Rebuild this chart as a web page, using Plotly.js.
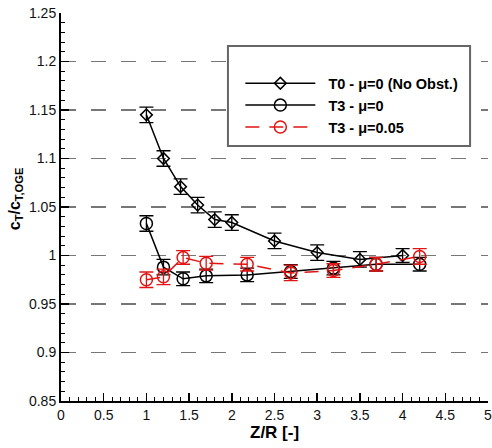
<!DOCTYPE html>
<html>
<head>
<meta charset="utf-8">
<script src="https://cdn.plot.ly/plotly-3.0.1.min.js"></script>
<style>html,body{margin:0;padding:0;background:#fff}#chart{width:492px;height:448px}</style>
</head>
<body>
<div id="chart"></div>
<script>
// T0 - mu=0 (No Obst.)
const t0X = [1.0, 1.2, 1.4, 1.6, 1.8, 2.0, 2.5, 3.0, 3.5, 4.0];
const t0Y = [1.145, 1.100, 1.071, 1.052, 1.037, 1.034, 1.015, 1.003, 0.996, 1.000];
const t0Err = [0.008, 0.008, 0.008, 0.008, 0.008, 0.008, 0.008, 0.008, 0.008, 0.007];
// T3 - mu=0
const t3X = [1.0, 1.2, 1.43, 1.7, 2.18, 2.69, 3.19, 3.69, 4.2];
const t3Y = [1.033, 0.988, 0.976, 0.979, 0.980, 0.9835, 0.987, 0.991, 0.991];
const t3Err = [0.008, 0.008, 0.007, 0.007, 0.007, 0.007, 0.007, 0.007, 0.007];
// T3 - mu=0.05
const t3bX = [1.0, 1.2, 1.43, 1.7, 2.18, 2.69, 3.19, 3.69, 4.2];
const t3bY = [0.975, 0.978, 0.998, 0.992, 0.991, 0.982, 0.9845, 0.991, 0.999];
const t3bErr = [0.008, 0.008, 0.007, 0.007, 0.007, 0.008, 0.007, 0.007, 0.008];

const names = ['\u00a0\u00a0T0 - \u03bc=0 (No Obst.)', '\u00a0\u00a0T3 - \u03bc=0', '\u00a0\u00a0T3 - \u03bc=0.05'];
const xTitle = 'Z/R [-]';
const yTitle = 'c<sub>T</sub>/c<sub>T,OGE</sub>';
const red = 'rgb(225,20,20)';

function errBar(arr, color) {
  return {type: 'data', array: arr, visible: true, color: color, thickness: 1.3, width: 7};
}

const traces = [
  {x: t0X, y: t0Y, name: names[0], mode: 'lines+markers', type: 'scatter',
   line: {color: 'black', width: 1.5},
   marker: {symbol: 'diamond-open', size: 9, color: 'black', line: {width: 1.5}},
   error_y: errBar(t0Err, 'black')},
  {x: t3X, y: t3Y, name: names[1], mode: 'lines+markers', type: 'scatter',
   line: {color: 'black', width: 1.5},
   marker: {symbol: 'circle-open', size: 12, color: 'black', line: {width: 1.5}},
   error_y: errBar(t3Err, 'black')},
  {x: t3bX, y: t3bY, name: names[2], mode: 'lines+markers', type: 'scatter',
   line: {color: red, width: 1.5, dash: '14px,10px'},
   marker: {symbol: 'circle-open', size: 12, color: red, line: {width: 1.5}},
   error_y: errBar(t3bErr, red)}
];

const font = 'Liberation Sans, Arial, Helvetica, sans-serif';

const layout = {
  width: 492, height: 448,
  margin: {l: 61, r: 4, t: 13, b: 47},
  paper_bgcolor: 'white', plot_bgcolor: 'white',
  font: {family: font, size: 13, color: '#111'},
  showlegend: true,
  legend: {
    x: 0.42, y: 0.86, xanchor: 'left', yanchor: 'top',
    bgcolor: 'rgba(0,0,0,0)', borderwidth: 0,
    itemwidth: 70,
    font: {family: font, size: 14.5, color: 'black', weight: 'bold'}
  },
  xaxis: {
    range: [0, 5], dtick: 0.5, tick0: 0,
    showgrid: false, zeroline: false,
    showline: true, linecolor: 'black', linewidth: 2,
    ticks: 'inside', ticklen: 8, tickwidth: 1.5, tickcolor: 'black',
    minor: {dtick: 0.1, ticks: 'inside', ticklen: 4, tickwidth: 1, tickcolor: 'black', showgrid: false},
    tickfont: {size: 14, color: '#111'},
    ticklabeloverflow: 'allow'
  },
  yaxis: {
    range: [0.85, 1.25], dtick: 0.05, tick0: 0.85,
    showgrid: true, gridcolor: '#777', gridwidth: 1.5, griddash: '15px,15px',
    zeroline: false,
    showline: true, linecolor: 'black', linewidth: 2,
    ticks: 'inside', ticklen: 8, tickwidth: 1.5, tickcolor: 'black',
    minor: {dtick: 0.01, ticks: 'inside', ticklen: 4, tickwidth: 1, tickcolor: 'black', showgrid: false},
    tickfont: {size: 14, color: '#111'}
  },
  annotations: [
    {text: xTitle, xref: 'paper', yref: 'paper', x: 0.5, y: 0, xanchor: 'center', yanchor: 'top',
     yshift: -20, showarrow: false, font: {size: 17, color: 'black', weight: 'bold'}},
    {text: yTitle, xref: 'paper', yref: 'paper', x: 0, y: 0.52, xanchor: 'center', yanchor: 'middle',
     xshift: -46, textangle: -90, showarrow: false, font: {size: 16, color: 'black', weight: 'bold'}}
  ],
  shapes: [{
    type: 'rect', xref: 'paper', yref: 'paper',
    x0: 0.391, x1: 0.958, y0: 0.657, y1: 0.915,
    fillcolor: 'white', line: {color: '#666', width: 2}, layer: 'above'
  }]
};

Plotly.newPlot('chart', traces, layout, {displayModeBar: false, staticPlot: true});
</script>
</body>
</html>
